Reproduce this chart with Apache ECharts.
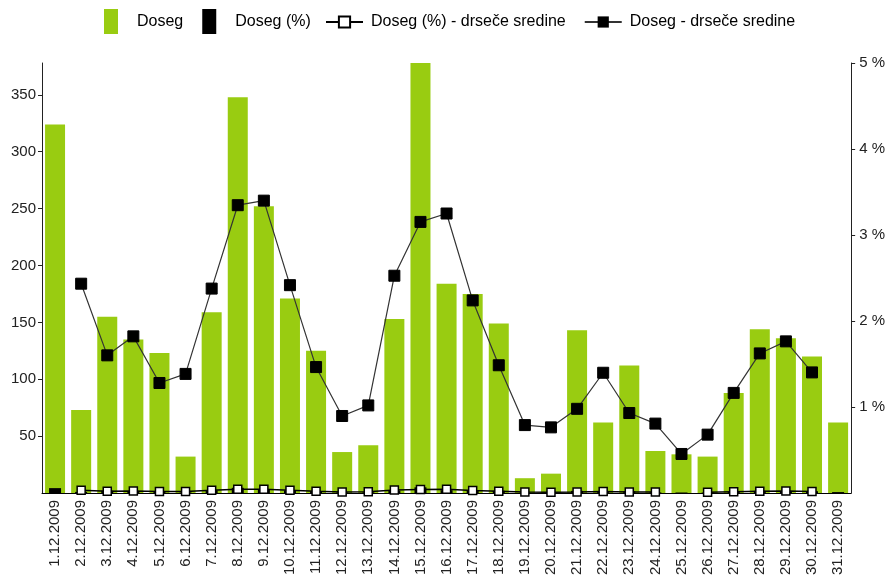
<!DOCTYPE html>
<html>
<head>
<meta charset="utf-8">
<script src="https://cdn.jsdelivr.net/npm/echarts@6/dist/echarts.min.js"></script>
<style>html,body{margin:0;padding:0;background:#fff}#c{width:888px;height:580px}</style>
</head>
<body>
<div id="c"></div>
<script>
const categories = ['1.12.2009','2.12.2009','3.12.2009','4.12.2009','5.12.2009','6.12.2009','7.12.2009','8.12.2009','9.12.2009','10.12.2009','11.12.2009','12.12.2009','13.12.2009','14.12.2009','15.12.2009','16.12.2009','17.12.2009','18.12.2009','19.12.2009','20.12.2009','21.12.2009','22.12.2009','23.12.2009','24.12.2009','25.12.2009','26.12.2009','27.12.2009','28.12.2009','29.12.2009','30.12.2009','31.12.2009'];
const doseg = [324,73,155,135,123,32,159,348,252,171,125,36,42,153,378,184,175,149,13,17,143,62,112,37,34,32,88,144,136,120,62];
const dosegPct = [4.29,0.97,2.05,1.79,1.63,0.42,2.10,4.60,3.33,2.26,1.65,0.48,0.56,2.02,5.00,2.43,2.31,1.97,0.17,0.22,1.89,0.82,1.48,0.49,0.45,0.42,1.16,1.90,1.80,1.59,0.82];
const dosegPctAvg = [null,2.43,1.60,1.82,1.28,1.38,2.38,3.35,3.40,2.42,1.46,0.90,1.02,2.53,3.15,3.25,2.24,1.49,0.79,0.76,0.98,1.40,0.93,0.81,null,0.68,1.16,1.62,1.76,1.40,null];
const dosegAvg = [null,184,121,137.7,96.7,104.7,179.7,253,257,182.7,110.7,67.7,77,191,238.3,245.7,169.3,112.3,59.7,57.7,74,105.7,70.3,61,34.3,51.3,88,122.7,133.3,106,null];
const leftTicks = [50,100,150,200,250,300,350];
const rightTicks = [1,2,3,4,5];

const FONT = 'Liberation Sans';
const chart = echarts.init(document.getElementById('c'));
chart.setOption({
  animation: false,
  textStyle: {fontFamily: FONT},
  legend: [
    {
      data: ['Doseg','Doseg (%)'],
      left: 99, top: 4,
      itemWidth: 14, itemHeight: 25, itemGap: 19,
      icon: 'rect',
      textStyle: {fontFamily: FONT, fontSize: 16, color: '#000', padding: [0,0,0,14]}
    },
    {
      data: ['Doseg (%) - drseče sredine','Doseg - drseče sredine'],
      left: 320, top: 9,
      itemWidth: 37, itemHeight: 14, itemGap: 18,
      textStyle: {fontFamily: FONT, fontSize: 16, color: '#000', padding: [0,0,0,3]}
    }
  ],
  grid: {left: 42, right: 32, top: 63, bottom: 87},
  xAxis: [
    {
      type: 'category', data: categories,
      axisLine: {lineStyle: {color: '#000'}},
      axisTick: {alignWithLabel: true, length: 4, lineStyle: {color: '#000'}},
      axisLabel: {rotate: 90, fontSize: 15, color: '#222', margin: 7, interval: 0, fontFamily: FONT}
    },
    {
      type: 'category', data: categories, show: false, position: 'bottom'
    }
  ],
  yAxis: [
    {
      type: 'value', min: 0, max: 378,
      splitLine: {show: false},
      axisLine: {show: true, lineStyle: {color: '#222'}},
      axisTick: {show: true, length: 4, customValues: leftTicks, lineStyle: {color: '#222'}},
      axisLabel: {fontSize: 15, color: '#222', margin: 6, customValues: leftTicks, fontFamily: FONT}
    },
    {
      type: 'value', min: 0, max: 5, position: 'right',
      splitLine: {show: false},
      axisLine: {show: true, lineStyle: {color: '#222'}},
      axisTick: {show: true, length: 4, customValues: rightTicks, lineStyle: {color: '#222'}},
      axisLabel: {fontSize: 15, color: '#222', margin: 8, customValues: rightTicks, formatter: '{value} %', fontFamily: FONT}
    }
  ],
  series: [
    {
      name: 'Doseg', type: 'bar', data: doseg, barWidth: 20,
      itemStyle: {color: '#99cc11'}, z: 1
    },
    {
      name: 'Doseg (%)', type: 'bar', data: dosegPct, xAxisIndex: 1, barWidth: 12,
      itemStyle: {color: '#000'}, z: 2
    },
    {
      name: 'Doseg (%) - drseče sredine', type: 'line', data: dosegPctAvg,
      symbol: 'rect', symbolSize: 8, showAllSymbol: true,
      lineStyle: {color: '#000', width: 1.5},
      itemStyle: {color: '#fff', borderColor: '#000', borderWidth: 1.5}, z: 4
    },
    {
      name: 'Doseg - drseče sredine', type: 'line', data: dosegAvg,
      symbol: 'rect', symbolSize: 11, showAllSymbol: true,
      lineStyle: {color: '#333', width: 1.2},
      itemStyle: {color: '#000', borderColor: '#000'}, z: 5
    }
  ]
});
</script>
</body>
</html>
